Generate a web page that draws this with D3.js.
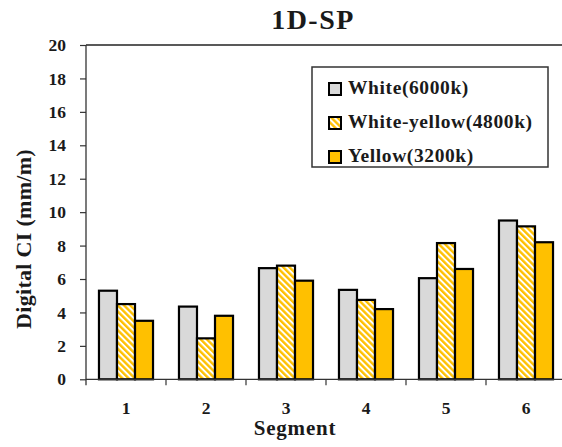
<!DOCTYPE html>
<html>
<head>
<meta charset="utf-8">
<script src="https://cdn.jsdelivr.net/npm/d3@7/dist/d3.min.js"></script>
<style>
  html, body { margin: 0; padding: 0; background: #fff; }
  svg { display: block; }
  text { font-family: "Liberation Serif", "Times New Roman", serif; font-weight: bold; fill: #1a1a1a; }
</style>
</head>
<body>
<svg id="chart" width="562" height="447"></svg>
<script>
// Segments along the x axis
const segments = ["1", "2", "3", "4", "5", "6"];
// Light sources (series)
const series = ["White(6000k)", "White-yellow(4800k)", "Yellow(3200k)"];
// Digital CI values (mm/m) per segment
const white = [5.3, 4.35, 6.65, 5.35, 6.05, 9.5];
const whiteYellow = [4.5, 2.45, 6.8, 4.75, 8.15, 9.15];
const yellow = [3.5, 3.8, 5.9, 4.2, 6.6, 8.2];
// Y axis ticks
const yTicks = [0, 2, 4, 6, 8, 10, 12, 14, 16, 18, 20];

const values = [white, whiteYellow, yellow];

const svg = d3.select("#chart");
const W = 562, H = 447;
const margin = { left: 86, top: 45, right: -4, bottom: 67.7 };
const plotW = W - margin.left - margin.right;
const plotH = H - margin.top - margin.bottom;

const defs = svg.append("defs");
const hatch = defs.append("pattern")
  .attr("id", "hatch")
  .attr("patternUnits", "userSpaceOnUse")
  .attr("width", 4.4).attr("height", 4.4)
  .attr("patternTransform", "rotate(-45)");
hatch.append("rect").attr("width", 4.4).attr("height", 4.4).attr("fill", "#ffffff");
hatch.append("rect").attr("width", 2.4).attr("height", 4.4).attr("fill", "#ffc000");

const fills = ["#d9d9d9", "url(#hatch)", "#ffc000"];

const g = svg.append("g").attr("transform", `translate(${margin.left},${margin.top})`);

const x0 = d3.scaleBand().domain(segments).range([0, plotW]).padding(0);
const x1 = d3.scaleBand().domain(series).range([0, x0.bandwidth()])
  .paddingInner(0).paddingOuter(0.72);
const y = d3.scaleLinear().domain([0, 20]).range([plotH, 0]);

// Plot frame: top border
g.append("line")
  .attr("x1", 0).attr("x2", plotW).attr("y1", y(20)).attr("y2", y(20))
  .attr("stroke", "#222").attr("stroke-width", 1.3);

// Bars
const groups = g.selectAll("g.seg").data(segments).join("g")
  .attr("class", "seg")
  .attr("transform", d => `translate(${x0(d)},0)`);

series.forEach((s, si) => {
  groups.append("rect")
    .attr("x", x1(s))
    .attr("width", x1.bandwidth())
    .attr("y", (d, i) => y(values[si][i]))
    .attr("height", (d, i) => y(0) - y(values[si][i]))
    .attr("fill", fills[si])
    .attr("stroke", "#000")
    .attr("stroke-width", 2.2);
});

// Y axis
const yAxis = g.append("g")
  .call(d3.axisLeft(y).tickValues(yTicks).tickSize(6).tickPadding(14).tickSizeOuter(0));
yAxis.select(".domain").remove();
yAxis.selectAll(".tick line").attr("stroke", "#333").attr("stroke-width", 1.2);
yAxis.selectAll(".tick text").attr("font-size", 17.5).attr("fill", "#1a1a1a");
g.append("line")
  .attr("x1", 0).attr("x2", 0).attr("y1", 0).attr("y2", plotH + 6)
  .attr("stroke", "#333").attr("stroke-width", 1.3);

// X axis: labels at band centres, ticks at band edges
const xAxis = g.append("g")
  .attr("transform", `translate(0,${plotH})`)
  .call(d3.axisBottom(x0).tickSize(0).tickPadding(22));
xAxis.select(".domain").remove();
xAxis.selectAll(".tick text").attr("font-size", 17.5).attr("fill", "#1a1a1a");
g.append("line")
  .attr("x1", 0).attr("x2", plotW).attr("y1", plotH).attr("y2", plotH)
  .attr("stroke", "#333").attr("stroke-width", 1.3);
g.selectAll("line.edge").data(segments.slice(1)).join("line")
  .attr("class", "edge")
  .attr("x1", d => x0(d)).attr("x2", d => x0(d))
  .attr("y1", plotH).attr("y2", plotH + 6)
  .attr("stroke", "#333").attr("stroke-width", 1.2);

// Title
svg.append("text")
  .attr("x", 313).attr("y", 29)
  .attr("text-anchor", "middle")
  .attr("font-size", 28)
  .attr("letter-spacing", 1.5)
  .text("1D-SP");

// Axis titles
svg.append("text")
  .attr("x", 295).attr("y", 435)
  .attr("text-anchor", "middle")
  .attr("font-size", 21)
  .attr("letter-spacing", 0.8)
  .text("Segment");

svg.append("text")
  .attr("transform", "translate(31,239) rotate(-90)")
  .attr("text-anchor", "middle")
  .attr("font-size", 22)
  .attr("letter-spacing", 0.3)
  .text("Digital CI (mm/m)");

// Legend
const legend = svg.append("g").attr("transform", "translate(312,67)");
legend.append("rect")
  .attr("width", 236).attr("height", 100)
  .attr("fill", "#fff").attr("stroke", "#333").attr("stroke-width", 1.5);
const items = legend.selectAll("g.item").data(series).join("g")
  .attr("class", "item")
  .attr("transform", (d, i) => `translate(17,${16 + i * 34})`);
items.append("rect")
  .attr("width", 12).attr("height", 12)
  .attr("fill", (d, i) => fills[i])
  .attr("stroke", "#000").attr("stroke-width", 2);
items.append("text")
  .attr("x", 19).attr("y", 11)
  .attr("font-size", 19.5)
  .attr("letter-spacing", 0.6)
  .text(d => d);
</script>
</body>
</html>
